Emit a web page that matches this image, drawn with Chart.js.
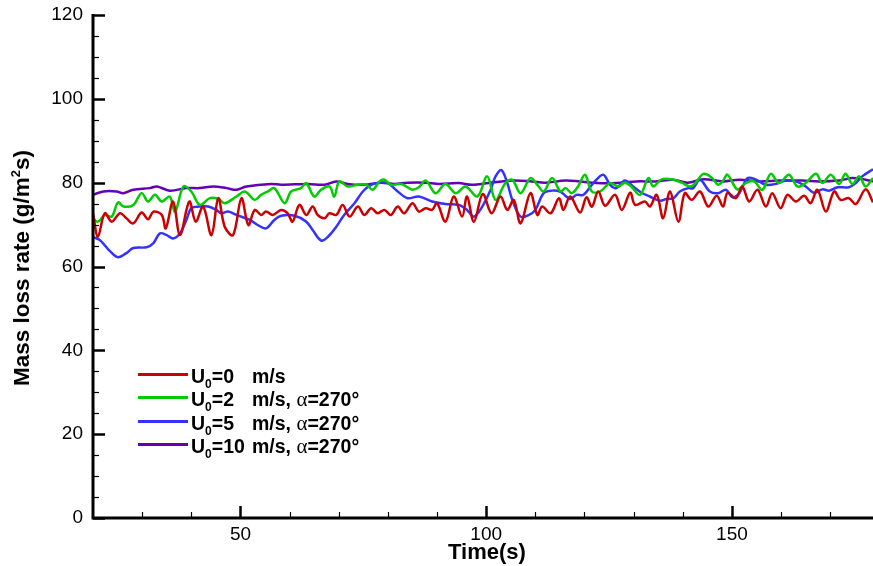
<!DOCTYPE html>
<html>
<head>
<meta charset="utf-8">
<script src="https://cdn.jsdelivr.net/npm/chart.js@4.4.1/dist/chart.umd.min.js"></script>
<style>
  html, body { margin: 0; padding: 0; background: #fff; }
  #wrap { position: relative; width: 873px; height: 566px; font-family: "Liberation Sans", Arial, sans-serif; color: #000; }
  #chart { position: absolute; left: 0; top: 0; }
  .ytitle { position: absolute; left: 22px; top: 268px; transform: translate(-50%, -50%) rotate(-90deg);
            font-weight: bold; font-size: 22.5px; white-space: nowrap; line-height: 22px; }
  .ytitle sup { font-size: 13px; vertical-align: 9px; line-height: 0; }
  .xtitle { position: absolute; left: 487px; top: 552px; transform: translate(-50%, -50%);
            font-weight: bold; font-size: 22px; white-space: nowrap; line-height: 22px; }
  .leg-line { position: absolute; left: 138px; width: 50px; height: 3px; }
  .leg-text { position: absolute; left: 191px; font-weight: bold; font-size: 19.5px; line-height: 19px; white-space: nowrap; }
  .leg-text .u { display: inline-block; width: 61px; }
  .leg-text sub { font-size: 12px; vertical-align: -5px; line-height: 0; }
  .leg-text .greek { font-family: "Liberation Serif", "DejaVu Serif", serif; font-weight: normal; font-size: 21px; }
</style>
</head>
<body>
<div id="wrap">
  <canvas id="chart" width="873" height="566"></canvas>
  <div class="ytitle">Mass loss rate (g/m<sup>2</sup>s)</div>
  <div class="xtitle">Time(s)</div>
  <div id="legend"></div>
</div>
<script>
// 軸の目盛り
const xTicks = [50, 100, 150];
const yTicks = [0, 20, 40, 60, 80, 100, 120];

// U0=0 m/s
const redTime = [20.0,21.0,22.4,23.8,25.5,26.8,28.2,29.9,31.2,32.3,34.0,34.8,36.3,37.7,39.6,40.9,42.4,44.1,45.5,46.8,48.5,50.2,51.6,52.9,54.2,55.2,56.6,58.3,59.6,60.6,62.0,63.4,64.7,65.7,67.1,68.1,69.5,70.8,72.2,73.9,75.2,76.6,77.9,79.3,80.6,82.0,83.3,85.0,86.3,87.7,89.0,90.0,91.7,93.4,95.1,96.1,97.5,99.3,101.1,102.9,104.3,105.6,107.0,109.0,110.4,111.4,113.1,114.8,115.7,117.1,119.1,120.4,121.5,122.8,124.2,126.2,127.6,129.3,130.3,132.3,133.3,134.7,136.0,137.4,139.1,140.4,141.8,143.5,145.2,146.9,148.2,149.1,150.8,152.1,153.5,155.2,156.9,158.2,159.9,161.3,163.0,164.7,166.0,167.4,169.1,170.8,172.1,173.8,175.2,177.2,178.7];
const redRate = [72.7,67.1,72.7,70.7,72.7,71.5,70.3,72.9,71.3,73.1,72.3,69.1,75.5,67.5,75.5,70.7,74.3,67.5,76.3,69.5,67.5,76.3,69.9,73.5,72.3,73.1,72.3,73.5,72.7,70.7,74.7,72.3,74.3,72.3,71.5,72.7,72.3,74.7,71.9,74.3,72.3,73.9,72.7,73.5,72.3,74.3,72.7,75.1,73.1,73.9,73.5,75.1,70.7,76.7,71.9,76.7,70.7,77.3,72.7,76.7,73.5,75.9,70.3,77.5,72.3,74.3,72.7,76.3,73.5,76.7,72.9,76.5,74.3,77.9,74.5,77.1,73.5,77.6,74.7,75.5,74.3,77.1,71.5,77.9,70.7,77.5,75.9,77.9,74.3,76.9,74.3,77.6,76.3,79.1,75.5,78.3,74.3,77.5,73.9,77.1,75.5,76.9,75.1,78.3,73.1,77.9,75.9,76.3,74.9,78.4,75.3];

// U0=2 m/s
const greenTime = [20.0,21.0,22.4,23.8,25.1,26.2,28.2,29.9,31.2,32.6,34.0,35.6,36.7,38.4,40.0,41.7,43.8,45.5,46.8,49.2,50.9,52.9,54.2,55.6,56.9,59.0,60.3,62.3,63.4,65.0,66.4,68.1,69.1,70.1,71.8,73.9,75.6,76.9,78.3,79.3,80.6,82.7,84.0,85.0,86.3,87.7,89.7,91.7,93.8,95.8,98.2,100.2,101.9,103.9,105.3,107.0,109.0,110.4,111.7,113.4,115.1,116.2,117.4,118.7,120.1,121.5,123.2,125.2,126.9,128.2,129.5,131.3,133.0,134.0,135.7,138.1,139.8,141.4,142.4,144.2,145.8,147.2,148.2,149.1,151.1,152.8,154.5,156.2,157.9,159.6,161.6,163.3,165.0,167.1,168.4,170.1,171.8,173.1,174.5,175.9,177.2,178.7];
const greenRate = [71.5,70.7,72.3,71.9,75.3,74.3,74.7,77.5,75.5,77.1,75.5,76.7,73.1,79.1,77.9,74.7,76.3,76.1,75.1,76.7,77.9,75.9,77.1,77.9,78.7,75.1,77.9,78.7,79.9,76.7,78.3,79.1,76.7,80.3,79.1,79.5,79.5,78.3,80.3,80.7,79.5,79.7,78.9,78.3,78.9,80.5,77.5,79.7,77.5,79.1,76.7,81.5,75.9,79.9,80.7,77.5,81.1,79.5,77.9,81.1,77.9,78.7,77.5,79.1,81.9,77.9,77.9,79.9,79.1,80.0,79.1,77.1,81.1,79.1,80.8,80.7,80.0,79.1,79.7,82.1,81.3,79.5,80.5,81.9,78.4,79.9,80.3,78.3,82.1,79.9,81.9,79.1,79.9,82.1,79.9,81.9,79.7,82.1,79.7,81.5,79.1,81.1];

// U0=5 m/s
const blueTime = [20.0,21.4,23.5,25.1,26.8,28.2,30.9,32.3,33.6,35.0,36.3,37.7,39.0,40.0,41.7,43.4,45.1,46.1,47.5,49.2,51.9,53.5,55.2,56.9,58.3,61.0,63.4,64.7,66.4,67.8,69.5,71.1,73.2,74.9,76.6,78.6,80.0,82.0,84.0,86.3,89.0,91.7,94.4,96.1,97.5,99.2,100.9,101.9,103.1,104.3,105.3,107.0,108.7,110.0,111.7,113.4,115.0,116.1,117.1,118.4,119.8,121.8,123.8,125.2,126.5,128.2,129.9,131.6,133.3,135.3,136.7,138.1,139.4,141.1,142.1,143.5,145.5,147.2,148.8,150.1,151.5,153.2,154.9,156.9,158.9,161.0,163.0,165.0,166.7,168.4,169.8,171.5,173.8,175.2,176.5,178.7];
const blueRate = [67.0,66.3,63.6,62.2,63.2,64.4,64.6,65.6,67.9,67.5,66.7,67.9,71.1,73.9,74.3,74.3,73.5,72.7,73.1,72.3,71.1,69.9,69.1,71.1,72.1,72.1,70.7,68.7,66.2,67.1,69.5,72.3,75.1,77.9,79.5,80.0,79.9,77.9,76.3,76.7,75.5,74.9,74.7,73.5,71.9,74.3,78.3,81.5,83.0,79.9,75.9,71.9,72.3,73.5,77.5,78.1,77.9,76.9,76.1,77.1,77.1,79.9,81.9,79.5,78.7,80.5,79.1,77.6,76.7,75.7,76.1,76.3,77.9,78.7,78.7,80.7,77.9,77.5,78.3,76.5,77.5,81.1,80.7,79.5,79.7,80.5,80.3,79.1,77.6,78.4,78.1,78.9,78.9,79.9,81.5,83.2];

// U0=10 m/s
const purpleTime = [20.0,22.1,24.8,26.2,28.2,31.6,33.0,35.6,39.0,41.7,44.5,47.2,49.2,51.2,56.2,58.3,63.7,67.1,69.5,71.8,75.2,78.6,81.3,84.0,87.7,90.4,94.4,97.1,100.5,105.3,109.3,112.0,116.1,119.0,122.5,126.5,130.6,134.5,138.1,141.0,144.2,148.2,151.5,155.5,159.6,164.3,167.7,171.8,174.5,177.2,178.7];
const purpleRate = [77.1,77.9,77.9,77.5,78.3,78.7,79.1,78.1,78.7,78.7,79.1,78.7,78.3,79.1,79.7,79.5,79.7,79.5,80.3,79.7,79.5,80.0,79.7,80.0,80.0,79.7,79.9,79.5,79.9,80.5,80.3,80.0,80.5,80.3,79.9,79.9,80.3,80.3,80.7,80.0,80.8,80.3,80.7,80.3,80.5,80.5,80.3,80.5,81.1,80.7,80.3];

const seriesList = [
    { name: "U0=0 m/s",            time: redTime,    rate: redRate,    color: "#CC0000" },
    { name: "U0=2 m/s, α=270°",    time: greenTime,  rate: greenRate,  color: "#00CC00" },
    { name: "U0=5 m/s, α=270°",    time: blueTime,   rate: blueRate,   color: "#3333FF" },
    { name: "U0=10 m/s, α=270°",   time: purpleTime, rate: purpleRate, color: "#6600B4" }
];

// 凡例（下付き文字があるのでHTMLで組む）
const legendRows = [
    ["0", "m/s", false],
    ["2", "m/s, ", true],
    ["5", "m/s, ", true],
    ["10", "m/s, ", true]
];
const legendBox = document.getElementById("legend");
legendRows.forEach((row, i) => {
    const lineY = 373 + i * 23.4;
    const line = document.createElement("div");
    line.className = "leg-line";
    line.style.top = lineY + "px";
    line.style.background = seriesList[i].color;
    legendBox.appendChild(line);

    const txt = document.createElement("div");
    txt.className = "leg-text";
    txt.style.top = (367 + i * 23.4) + "px";
    txt.innerHTML = `<span class="u">U<sub>0</sub>=${row[0]}</span>${row[1]}` +
        (row[2] ? `<span class="greek">α</span>=270°` : "");
    legendBox.appendChild(txt);
});

// 内向きの目盛り線と軸線を描くプラグイン
const tecAxes = {
    id: "tecAxes",
    afterDatasetsDraw(chart) {
        const { ctx, chartArea: a, scales: { x, y } } = chart;
        ctx.save();
        ctx.strokeStyle = "#000";
        // y minor / major
        for (let v = 0; v <= 120; v += 5) {
            const py = Math.round(y.getPixelForValue(v)) + 0.5;
            const major = yTicks.includes(v);
            ctx.lineWidth = major ? 2.5 : 1.2;
            ctx.beginPath();
            ctx.moveTo(a.left, py);
            ctx.lineTo(a.left + (major ? 12 : 6), py);
            ctx.stroke();
        }
        // x minor / major
        for (let v = 30; v <= x.max; v += 10) {
            const px = Math.round(x.getPixelForValue(v)) + 0.5;
            const major = xTicks.includes(v);
            ctx.lineWidth = major ? 2.5 : 1.2;
            ctx.beginPath();
            ctx.moveTo(px, a.bottom);
            ctx.lineTo(px, a.bottom - (major ? 12 : 6));
            ctx.stroke();
        }
        // 軸線
        ctx.lineWidth = 3;
        ctx.beginPath();
        ctx.moveTo(a.left, a.top - 1);
        ctx.lineTo(a.left, a.bottom);
        ctx.lineTo(a.right, a.bottom);
        ctx.stroke();
        ctx.restore();
    }
};

const ctx = document.getElementById("chart").getContext("2d");
new Chart(ctx, {
    type: "line",
    data: {
        datasets: seriesList.map(s => ({
            label: s.name,
            data: s.time.map((t, i) => ({ x: t, y: s.rate[i] })),
            borderColor: s.color,
            borderWidth: 2.5,
            pointRadius: 0,
            tension: 0.35,
            fill: false
        }))
    },
    options: {
        responsive: false,
        animation: false,
        layout: { padding: { top: 15, right: 0, left: 0, bottom: 0 } },
        plugins: { legend: { display: false }, tooltip: { enabled: false } },
        scales: {
            x: {
                type: "linear",
                min: 20,
                max: 178.7,
                afterBuildTicks: s => { s.ticks = xTicks.map(v => ({ value: v })); },
                afterFit: s => { s.height = 48; s.paddingLeft = 0; s.paddingRight = 0; },
                grid: { display: false, drawTicks: false },
                border: { display: false },
                ticks: { color: "#000", padding: 5, maxRotation: 0,
                         font: { family: "Liberation Sans, Arial", size: 19 } }
            },
            y: {
                type: "linear",
                min: 0,
                max: 120,
                afterBuildTicks: s => { s.ticks = yTicks.map(v => ({ value: v })); },
                afterFit: s => { s.width = 93; s.paddingTop = 0; s.paddingBottom = 0; },
                grid: { display: false, drawTicks: false },
                border: { display: false },
                ticks: { color: "#000", padding: 10,
                         font: { family: "Liberation Sans, Arial", size: 19 } }
            }
        }
    },
    plugins: [tecAxes]
});
</script>
</body>
</html>
